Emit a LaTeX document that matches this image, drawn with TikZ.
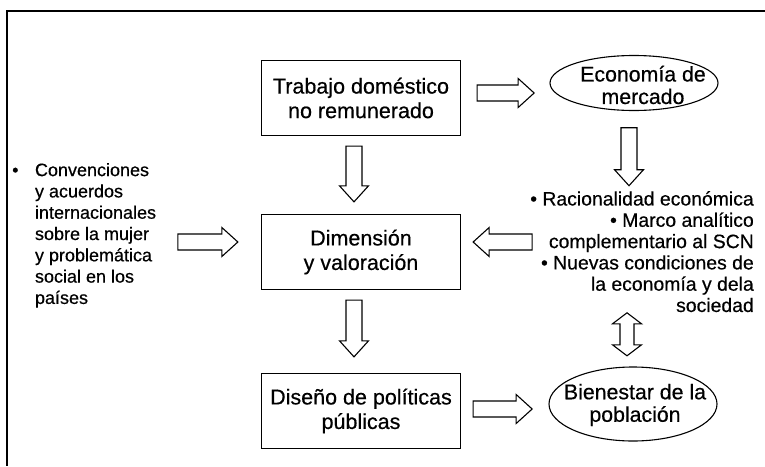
\documentclass[tikz,border=0pt]{standalone}
\usepackage{fontspec}
\setmainfont{Liberation Sans}[FakeBold=0.5]
\usetikzlibrary{calc}

\tikzset{
    box/.style={draw, line width=1.3pt, minimum width=199pt, minimum height=75pt,
        inner sep=0pt, align=center, font=\fontsize{21.5}{24.5}\selectfont},
    ovaltext/.style={minimum width=168pt, inner sep=0pt, align=center,
        font=\fontsize{21.3}{22.5}\selectfont},
    ovalline/.style={line width=1.1pt},
    hollow/.style={draw, line width=1.1pt, line join=miter, fill=white}
}

% hollow block arrow from #1 to #2
\newcommand{\hollowarrow}[2]{%
    \coordinate (ha) at (#1);
    \coordinate (hb) at (#2);
    \coordinate (hh) at ($(hb)!16pt!(ha)$);
    \draw[hollow] ($(ha)!8pt!90:(hb)$) -- ($(hh)!8pt!90:(hb)$) -- ($(hh)!14.5pt!90:(hb)$)
        -- (hb) -- ($(hh)!14.5pt!-90:(hb)$) -- ($(hh)!8pt!-90:(hb)$) -- ($(ha)!8pt!-90:(hb)$) -- cycle;
}

% hollow block arrow with two heads
\newcommand{\hollowdouble}[2]{%
    \coordinate (da) at (#1);
    \coordinate (db) at (#2);
    \coordinate (dha) at ($(da)!11pt!(db)$);
    \coordinate (dhb) at ($(db)!11pt!(da)$);
    \draw[hollow] (da) -- ($(dha)!14.5pt!90:(db)$) -- ($(dha)!7pt!90:(db)$) -- ($(dhb)!7pt!-90:(da)$)
        -- ($(dhb)!14.5pt!-90:(da)$) -- (db) -- ($(dhb)!14.5pt!90:(da)$) -- ($(dhb)!7pt!90:(da)$)
        -- ($(dha)!7pt!-90:(db)$) -- ($(dha)!14.5pt!-90:(db)$) -- cycle;
}

\begin{document}
\begin{tikzpicture}[x=1pt, y=-1pt]
    \useasboundingbox (0,0) rectangle (765,466);

    % frame
    \draw[line width=1.3pt] (765,11) -- (7,11) -- (7,466);

    % boxes
    \node[box] (trabajo) at (361,98) {Trabajo doméstico\\no remunerado};
    \node[box] (dimension) at (361,252) {Dimensión\\y valoración};
    \node[box] (diseno) at (361,411) {Diseño de políticas\\públicas};

    % ovals
    \node[ovaltext, minimum height=55pt] (economia) at (643,85) {Economía de\\mercado};
    \draw[ovalline] ($(economia.center)+(-9,-2)$) ellipse [x radius=84pt, y radius=27.5pt];
    \node[ovaltext, minimum height=74pt] (bienestar) at (635,405) {Bienestar de la\\población};
    \draw[ovalline] ($(bienestar.center)+(-2,-1)$) ellipse [x radius=84pt, y radius=37pt];

    % texts
    \node[anchor=north west, inner sep=0pt, font=\fontsize{18}{21.3}\selectfont] (convenciones) at (12,161)
        {\begin{tabular}{@{}l@{\hspace{16.5pt}}l@{}}
            \textbullet & Convenciones\\
            & y acuerdos\\
            & internacionales\\
            & sobre la mujer\\
            & y problemática\\
            & social en los\\
            & países
        \end{tabular}};
    \node[anchor=north east, inner sep=0pt, align=right, font=\fontsize{19.4}{21.3}\selectfont] (factores) at (754,191)
        {\textbullet\ Racionalidad económica\\
         \textbullet\ Marco analítico\\
         complementario al SCN\\
         \textbullet\ Nuevas condiciones de\\
         la economía y dela\\
         sociedad};

    % arrows
    \hollowarrow{$(trabajo.east)+(16,-5)$}{$(trabajo.east)+(73,-5)$}
    \hollowarrow{$(trabajo.south)+(-7,10)$}{$(dimension.north)+(-7,-12)$}
    \hollowarrow{$(economia.south)+(-14,15)$}{$(economia.south)+(-14,73)$}
    \hollowarrow{$(dimension.west)+(-83,-10)$}{$(dimension.west)+(-23,-10)$}
    \hollowarrow{$(dimension.east)+(71,-10)$}{$(dimension.east)+(12,-10)$}
    \hollowarrow{$(dimension.south)+(-7,10)$}{$(diseno.north)+(-7,-16)$}
    \hollowarrow{$(diseno.east)+(12,-2)$}{$(diseno.east)+(71,-2)$}
    \hollowdouble{$(bienestar.north)+(-8,-55)$}{$(bienestar.north)+(-8,-12)$}

\end{tikzpicture}
\end{document}
